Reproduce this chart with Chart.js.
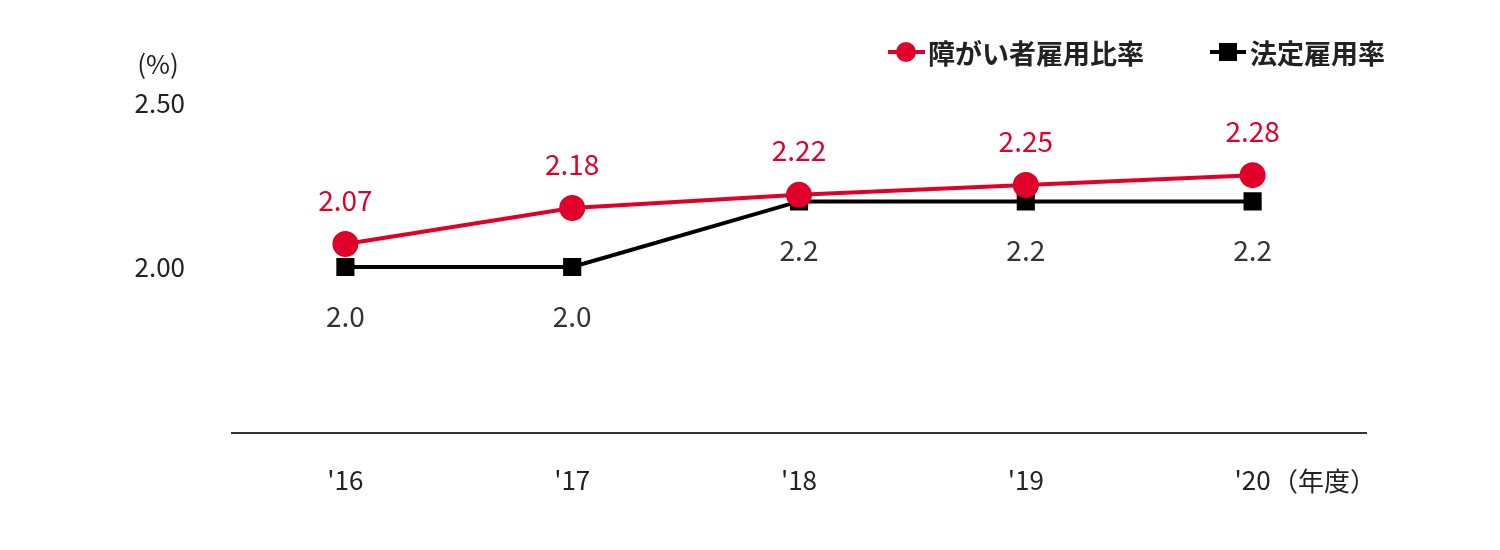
<!DOCTYPE html>
<html>
<head>
<meta charset="utf-8">
<script src="https://cdn.jsdelivr.net/npm/chart.js@4.4.1/dist/chart.umd.min.js"></script>
<style>
  html, body { margin: 0; padding: 0; background: #fff; }
  #wrap { width: 1500px; height: 550px; position: relative; }
</style>
</head>
<body>
<div id="wrap"><canvas id="chart"></canvas></div>
<script>
const years = ["'16", "'17", "'18", "'19", "'20"];
const employmentRate = [2.07, 2.18, 2.22, 2.25, 2.28];
const legalRate = [2.0, 2.0, 2.2, 2.2, 2.2];
const yTicks = [2.0, 2.5];

const RED = '#e0002a';
const BLACK = '#000';
const FONT = '"Noto Sans CJK JP", "Noto Sans", sans-serif';

const extras = {
  id: 'extras',
  afterDatasetsDraw(chart) {
    const ctx = chart.ctx;
    ctx.save();
    ctx.textAlign = 'center';
    ctx.textBaseline = 'middle';
    ctx.font = '28px ' + FONT;

    // data labels
    const m0 = chart.getDatasetMeta(0), m1 = chart.getDatasetMeta(1);
    ctx.fillStyle = RED;
    m0.data.forEach((p, i) => ctx.fillText(employmentRate[i].toFixed(2), p.x, p.y - 44));
    ctx.fillStyle = '#333';
    m1.data.forEach((p, i) => ctx.fillText(legalRate[i].toFixed(1), p.x, p.y + 49));

    // unit labels
    ctx.fillStyle = '#222';
    ctx.font = '26px ' + FONT;
    ctx.fillText('(%)', 158, 64);
    ctx.textAlign = 'left';
    ctx.fillText('（年度）', 1272, 481);

    // legend
    ctx.lineWidth = 4;
    ctx.strokeStyle = RED;
    ctx.beginPath(); ctx.moveTo(888, 52); ctx.lineTo(925, 52); ctx.stroke();
    ctx.fillStyle = RED;
    ctx.beginPath(); ctx.arc(906, 52, 10, 0, Math.PI * 2); ctx.fill();
    ctx.strokeStyle = BLACK;
    ctx.beginPath(); ctx.moveTo(1210, 52); ctx.lineTo(1246, 52); ctx.stroke();
    ctx.fillStyle = BLACK;
    ctx.fillRect(1219, 43, 18, 18);
    ctx.fillStyle = '#222';
    ctx.font = 'bold 27px ' + FONT;
    ctx.fillText('障がい者雇用比率', 928, 54);
    ctx.fillText('法定雇用率', 1250, 54);
    ctx.restore();
  }
};

new Chart(document.getElementById('chart'), {
  type: 'line',
  data: {
    labels: years,
    datasets: [
      { data: employmentRate, borderColor: RED, backgroundColor: RED, borderWidth: 4,
        pointRadius: 11, pointStyle: 'circle', tension: 0 },
      { data: legalRate, borderColor: BLACK, backgroundColor: BLACK, borderWidth: 4,
        pointRadius: 10, pointStyle: 'rect', tension: 0 }
    ]
  },
  options: {
    responsive: true,
    maintainAspectRatio: false,
    animation: false,
    layout: { padding: { top: 103, right: 134, left: 0, bottom: 0 } },
    plugins: { legend: { display: false }, tooltip: { enabled: false } },
    scales: {
      x: {
        offset: true,
        grid: { display: false, drawTicks: false },
        border: { display: true, color: '#333', width: 2 },
        ticks: { color: '#222', font: { size: 26, family: FONT }, padding: 32 },
        afterFit(s) { s.height = 117; }
      },
      y: {
        min: 1.494, max: 2.5,
        grid: { display: false, drawTicks: false },
        border: { display: false },
        afterBuildTicks(s) { s.ticks = yTicks.map(v => ({ value: v })); },
        ticks: { color: '#222', font: { size: 26, family: FONT }, padding: 47,
                 callback: v => v.toFixed(2) },
        afterFit(s) { s.width = 232; }
      }
    }
  },
  plugins: [extras]
});
</script>
</body>
</html>
